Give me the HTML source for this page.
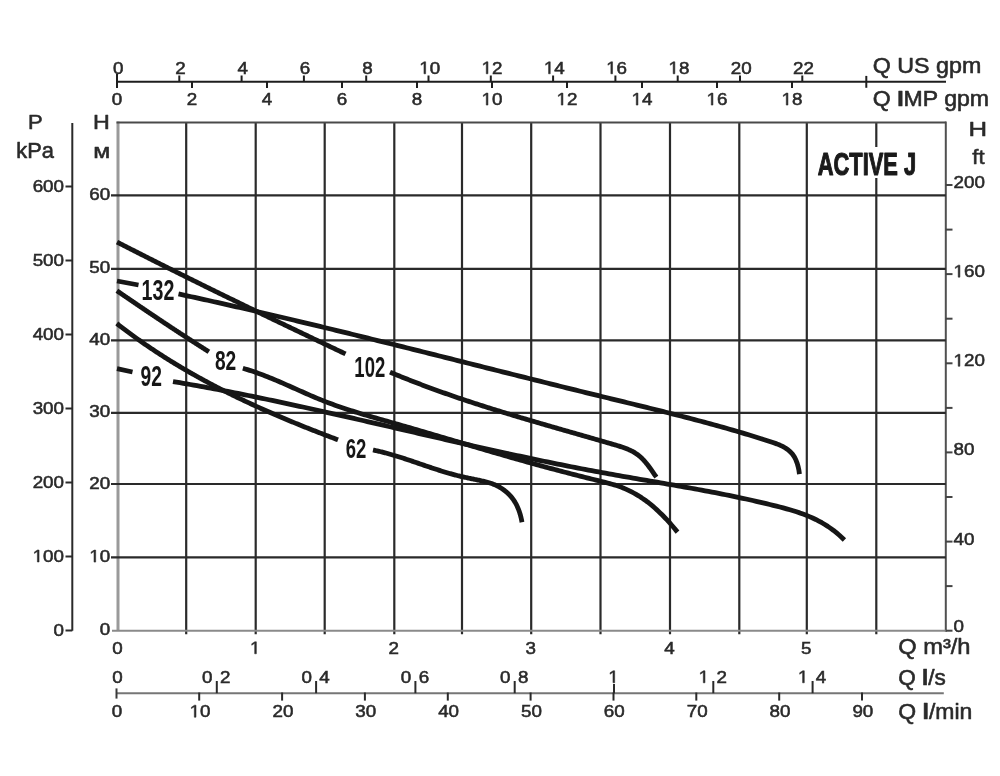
<!DOCTYPE html>
<html><head><meta charset="utf-8"><style>
html,body{margin:0;padding:0;background:#fff;}
svg{display:block;will-change:transform;}
text{font-family:"Liberation Sans",sans-serif;}
</style></head><body>
<svg width="1000" height="776" viewBox="0 0 1000 776">
<rect width="1000" height="776" fill="#fff"/>
<line x1="118.0" y1="121.4" x2="118.0" y2="630.7" stroke="#9a9a9a" stroke-width="3"/>
<line x1="186.2" y1="122.4" x2="186.2" y2="634.2" stroke="#2a2a2a" stroke-width="2.2"/>
<line x1="255.7" y1="122.4" x2="255.7" y2="634.2" stroke="#2a2a2a" stroke-width="2.2"/>
<line x1="324.7" y1="122.4" x2="324.7" y2="634.2" stroke="#2a2a2a" stroke-width="2.2"/>
<line x1="394.3" y1="122.4" x2="394.3" y2="634.2" stroke="#2a2a2a" stroke-width="2.2"/>
<line x1="462.0" y1="122.4" x2="462.0" y2="634.2" stroke="#2a2a2a" stroke-width="2.2"/>
<line x1="531.2" y1="122.4" x2="531.2" y2="634.2" stroke="#2a2a2a" stroke-width="2.2"/>
<line x1="600.5" y1="122.4" x2="600.5" y2="634.2" stroke="#2a2a2a" stroke-width="2.2"/>
<line x1="670.0" y1="122.4" x2="670.0" y2="634.2" stroke="#2a2a2a" stroke-width="2.2"/>
<line x1="739.3" y1="122.4" x2="739.3" y2="634.2" stroke="#2a2a2a" stroke-width="2.2"/>
<line x1="806.8" y1="122.4" x2="806.8" y2="634.2" stroke="#2a2a2a" stroke-width="2.2"/>
<line x1="876.3" y1="122.4" x2="876.3" y2="634.2" stroke="#2a2a2a" stroke-width="2.2"/>
<line x1="945.8" y1="121.4" x2="945.8" y2="631.7" stroke="#505050" stroke-width="2"/>
<line x1="116.5" y1="122.4" x2="945.8" y2="122.4" stroke="#4a4a4a" stroke-width="2"/>
<line x1="111.0" y1="195.4" x2="945.8" y2="195.4" stroke="#2a2a2a" stroke-width="2.2"/>
<line x1="111.0" y1="268.8" x2="945.8" y2="268.8" stroke="#2a2a2a" stroke-width="2.2"/>
<line x1="111.0" y1="340.4" x2="945.8" y2="340.4" stroke="#2a2a2a" stroke-width="2.2"/>
<line x1="111.0" y1="412.8" x2="945.8" y2="412.8" stroke="#2a2a2a" stroke-width="2.2"/>
<line x1="111.0" y1="484.0" x2="945.8" y2="484.0" stroke="#2a2a2a" stroke-width="2.2"/>
<line x1="111.0" y1="557.4" x2="945.8" y2="557.4" stroke="#2a2a2a" stroke-width="2.2"/>
<line x1="112.0" y1="630.7" x2="945.8" y2="630.7" stroke="#8a8a8a" stroke-width="2"/>
<text font-size="17.4" fill="#2a2a2a" stroke="#2a2a2a" stroke-width="0.55" transform="translate(89.30 200.09) scale(1.08 1)">60</text>
<text font-size="17.4" fill="#2a2a2a" stroke="#2a2a2a" stroke-width="0.55" transform="translate(89.30 273.49) scale(1.08 1)">50</text>
<text font-size="17.4" fill="#2a2a2a" stroke="#2a2a2a" stroke-width="0.55" transform="translate(89.30 345.09) scale(1.08 1)">40</text>
<text font-size="17.4" fill="#2a2a2a" stroke="#2a2a2a" stroke-width="0.55" transform="translate(89.30 417.49) scale(1.08 1)">30</text>
<text font-size="17.4" fill="#2a2a2a" stroke="#2a2a2a" stroke-width="0.55" transform="translate(89.30 488.69) scale(1.08 1)">20</text>
<text font-size="17.4" fill="#2a2a2a" stroke="#2a2a2a" stroke-width="0.55" transform="translate(89.30 562.09) scale(1.08 1)"> 0</text>
<path d="M515 0L515 1237L197 1010L197 1180L530 1409L696 1409L696 0Z" fill="#2a2a2a" stroke="#2a2a2a" stroke-width="0.55" vector-effect="non-scaling-stroke" transform="matrix(0.009176 0 0 -0.008496 89.30 562.09)"/>
<text font-size="17.4" fill="#2a2a2a" stroke="#2a2a2a" stroke-width="0.55" transform="translate(99.75 635.39) scale(1.08 1)">0</text>
<line x1="72.3" y1="123.0" x2="72.3" y2="630.7" stroke="#2a2a2a" stroke-width="2"/>
<line x1="65.5" y1="630.5" x2="72.3" y2="630.5" stroke="#2a2a2a" stroke-width="2"/>
<text font-size="17.4" fill="#2a2a2a" stroke="#2a2a2a" stroke-width="0.55" transform="translate(53.55 635.99) scale(1.08 1)">0</text>
<line x1="65.5" y1="556.5" x2="72.3" y2="556.5" stroke="#2a2a2a" stroke-width="2"/>
<text font-size="17.4" fill="#2a2a2a" stroke="#2a2a2a" stroke-width="0.55" transform="translate(32.65 561.99) scale(1.08 1)"> 00</text>
<path d="M515 0L515 1237L197 1010L197 1180L530 1409L696 1409L696 0Z" fill="#2a2a2a" stroke="#2a2a2a" stroke-width="0.55" vector-effect="non-scaling-stroke" transform="matrix(0.009176 0 0 -0.008496 32.65 561.99)"/>
<line x1="65.5" y1="482.5" x2="72.3" y2="482.5" stroke="#2a2a2a" stroke-width="2"/>
<text font-size="17.4" fill="#2a2a2a" stroke="#2a2a2a" stroke-width="0.55" transform="translate(32.65 487.99) scale(1.08 1)">200</text>
<line x1="65.5" y1="408.5" x2="72.3" y2="408.5" stroke="#2a2a2a" stroke-width="2"/>
<text font-size="17.4" fill="#2a2a2a" stroke="#2a2a2a" stroke-width="0.55" transform="translate(32.65 413.99) scale(1.08 1)">300</text>
<line x1="65.5" y1="334.5" x2="72.3" y2="334.5" stroke="#2a2a2a" stroke-width="2"/>
<text font-size="17.4" fill="#2a2a2a" stroke="#2a2a2a" stroke-width="0.55" transform="translate(32.65 339.99) scale(1.08 1)">400</text>
<line x1="65.5" y1="260.5" x2="72.3" y2="260.5" stroke="#2a2a2a" stroke-width="2"/>
<text font-size="17.4" fill="#2a2a2a" stroke="#2a2a2a" stroke-width="0.55" transform="translate(32.65 265.99) scale(1.08 1)">500</text>
<line x1="65.5" y1="186.5" x2="72.3" y2="186.5" stroke="#2a2a2a" stroke-width="2"/>
<text font-size="17.4" fill="#2a2a2a" stroke="#2a2a2a" stroke-width="0.55" transform="translate(32.65 191.99) scale(1.08 1)">600</text>
<text font-size="20.203" fill="#2a2a2a" stroke="#2a2a2a" stroke-width="0.6" vector-effect="non-scaling-stroke" stroke-linejoin="round" transform="matrix(1.08651 0 0 1 28.10 129.20)">P</text>
<text font-size="21.931" fill="#2a2a2a" stroke="#2a2a2a" stroke-width="0.6" vector-effect="non-scaling-stroke" stroke-linejoin="round" transform="matrix(0.99616 0 0 1 16.24 157.50)">kPa</text>
<text font-size="20.203" fill="#2a2a2a" stroke="#2a2a2a" stroke-width="0.6" vector-effect="non-scaling-stroke" stroke-linejoin="round" transform="matrix(1.15108 0 0 1 93.09 129.20)">H</text>
<text font-size="20.265" fill="#2a2a2a" stroke="#2a2a2a" stroke-width="0.6" vector-effect="non-scaling-stroke" stroke-linejoin="round" transform="matrix(1.22019 0 0 1 93.29 157.50)">м</text>
<line x1="945.8" y1="630.7" x2="952.5" y2="630.7" stroke="#444" stroke-width="2"/>
<text font-size="17.4" fill="#2a2a2a" stroke="#2a2a2a" stroke-width="0.55" transform="translate(953.50 631.69) scale(1.08 1)">0</text>
<line x1="945.8" y1="586.1" x2="952.5" y2="586.1" stroke="#444" stroke-width="2"/>
<line x1="945.8" y1="541.6" x2="952.5" y2="541.6" stroke="#444" stroke-width="2"/>
<text font-size="17.4" fill="#2a2a2a" stroke="#2a2a2a" stroke-width="0.55" transform="translate(953.50 544.55) scale(1.08 1)">40</text>
<line x1="945.8" y1="497.0" x2="952.5" y2="497.0" stroke="#444" stroke-width="2"/>
<line x1="945.8" y1="452.4" x2="952.5" y2="452.4" stroke="#444" stroke-width="2"/>
<text font-size="17.4" fill="#2a2a2a" stroke="#2a2a2a" stroke-width="0.55" transform="translate(953.50 455.41) scale(1.08 1)">80</text>
<line x1="945.8" y1="407.9" x2="952.5" y2="407.9" stroke="#444" stroke-width="2"/>
<line x1="945.8" y1="363.3" x2="952.5" y2="363.3" stroke="#444" stroke-width="2"/>
<text font-size="17.4" fill="#2a2a2a" stroke="#2a2a2a" stroke-width="0.55" transform="translate(953.50 366.27) scale(1.08 1)"> 20</text>
<path d="M515 0L515 1237L197 1010L197 1180L530 1409L696 1409L696 0Z" fill="#2a2a2a" stroke="#2a2a2a" stroke-width="0.55" vector-effect="non-scaling-stroke" transform="matrix(0.009176 0 0 -0.008496 953.50 366.27)"/>
<line x1="945.8" y1="318.7" x2="952.5" y2="318.7" stroke="#444" stroke-width="2"/>
<line x1="945.8" y1="274.1" x2="952.5" y2="274.1" stroke="#444" stroke-width="2"/>
<text font-size="17.4" fill="#2a2a2a" stroke="#2a2a2a" stroke-width="0.55" transform="translate(953.50 277.13) scale(1.08 1)"> 60</text>
<path d="M515 0L515 1237L197 1010L197 1180L530 1409L696 1409L696 0Z" fill="#2a2a2a" stroke="#2a2a2a" stroke-width="0.55" vector-effect="non-scaling-stroke" transform="matrix(0.009176 0 0 -0.008496 953.50 277.13)"/>
<line x1="945.8" y1="229.6" x2="952.5" y2="229.6" stroke="#444" stroke-width="2"/>
<line x1="945.8" y1="185.0" x2="952.5" y2="185.0" stroke="#444" stroke-width="2"/>
<text font-size="17.4" fill="#2a2a2a" stroke="#2a2a2a" stroke-width="0.55" transform="translate(953.50 187.99) scale(1.08 1)">200</text>
<text font-size="21.076" fill="#2a2a2a" stroke="#2a2a2a" stroke-width="0.6" vector-effect="non-scaling-stroke" stroke-linejoin="round" transform="matrix(1.22228 0 0 1 968.49 135.70)">H</text>
<text font-size="20.028" fill="#2a2a2a" stroke="#2a2a2a" stroke-width="0.6" vector-effect="non-scaling-stroke" stroke-linejoin="round" transform="matrix(1.10128 0 0 1 972.29 164.10)">ft</text>
<line x1="117.0" y1="81.7" x2="946.0" y2="81.7" stroke="#1e1e1e" stroke-width="2"/>
<line x1="117.0" y1="74.0" x2="117.0" y2="88.0" stroke="#1e1e1e" stroke-width="2"/>
<line x1="866.3" y1="75.9" x2="866.3" y2="87.8" stroke="#1e1e1e" stroke-width="2"/>
<text font-size="17.4" fill="#2a2a2a" stroke="#2a2a2a" stroke-width="0.55" transform="translate(112.97 73.79) scale(1.08 1)">0</text>
<line x1="179.3" y1="75.5" x2="179.3" y2="82.0" stroke="#1e1e1e" stroke-width="2"/>
<text font-size="17.4" fill="#2a2a2a" stroke="#2a2a2a" stroke-width="0.55" transform="translate(175.27 73.79) scale(1.08 1)">2</text>
<line x1="241.6" y1="75.5" x2="241.6" y2="82.0" stroke="#1e1e1e" stroke-width="2"/>
<text font-size="17.4" fill="#2a2a2a" stroke="#2a2a2a" stroke-width="0.55" transform="translate(237.57 73.79) scale(1.08 1)">4</text>
<line x1="303.9" y1="75.5" x2="303.9" y2="82.0" stroke="#1e1e1e" stroke-width="2"/>
<text font-size="17.4" fill="#2a2a2a" stroke="#2a2a2a" stroke-width="0.55" transform="translate(299.87 73.79) scale(1.08 1)">6</text>
<line x1="366.2" y1="75.5" x2="366.2" y2="82.0" stroke="#1e1e1e" stroke-width="2"/>
<text font-size="17.4" fill="#2a2a2a" stroke="#2a2a2a" stroke-width="0.55" transform="translate(362.17 73.79) scale(1.08 1)">8</text>
<line x1="428.5" y1="75.5" x2="428.5" y2="82.0" stroke="#1e1e1e" stroke-width="2"/>
<text font-size="17.4" fill="#2a2a2a" stroke="#2a2a2a" stroke-width="0.55" transform="translate(419.25 73.79) scale(1.08 1)"> 0</text>
<path d="M515 0L515 1237L197 1010L197 1180L530 1409L696 1409L696 0Z" fill="#2a2a2a" stroke="#2a2a2a" stroke-width="0.55" vector-effect="non-scaling-stroke" transform="matrix(0.009176 0 0 -0.008496 419.25 73.79)"/>
<line x1="490.8" y1="75.5" x2="490.8" y2="82.0" stroke="#1e1e1e" stroke-width="2"/>
<text font-size="17.4" fill="#2a2a2a" stroke="#2a2a2a" stroke-width="0.55" transform="translate(481.55 73.79) scale(1.08 1)"> 2</text>
<path d="M515 0L515 1237L197 1010L197 1180L530 1409L696 1409L696 0Z" fill="#2a2a2a" stroke="#2a2a2a" stroke-width="0.55" vector-effect="non-scaling-stroke" transform="matrix(0.009176 0 0 -0.008496 481.55 73.79)"/>
<line x1="553.1" y1="75.5" x2="553.1" y2="82.0" stroke="#1e1e1e" stroke-width="2"/>
<text font-size="17.4" fill="#2a2a2a" stroke="#2a2a2a" stroke-width="0.55" transform="translate(543.85 73.79) scale(1.08 1)"> 4</text>
<path d="M515 0L515 1237L197 1010L197 1180L530 1409L696 1409L696 0Z" fill="#2a2a2a" stroke="#2a2a2a" stroke-width="0.55" vector-effect="non-scaling-stroke" transform="matrix(0.009176 0 0 -0.008496 543.85 73.79)"/>
<line x1="615.4" y1="75.5" x2="615.4" y2="82.0" stroke="#1e1e1e" stroke-width="2"/>
<text font-size="17.4" fill="#2a2a2a" stroke="#2a2a2a" stroke-width="0.55" transform="translate(606.15 73.79) scale(1.08 1)"> 6</text>
<path d="M515 0L515 1237L197 1010L197 1180L530 1409L696 1409L696 0Z" fill="#2a2a2a" stroke="#2a2a2a" stroke-width="0.55" vector-effect="non-scaling-stroke" transform="matrix(0.009176 0 0 -0.008496 606.15 73.79)"/>
<line x1="677.7" y1="75.5" x2="677.7" y2="82.0" stroke="#1e1e1e" stroke-width="2"/>
<text font-size="17.4" fill="#2a2a2a" stroke="#2a2a2a" stroke-width="0.55" transform="translate(668.45 73.79) scale(1.08 1)"> 8</text>
<path d="M515 0L515 1237L197 1010L197 1180L530 1409L696 1409L696 0Z" fill="#2a2a2a" stroke="#2a2a2a" stroke-width="0.55" vector-effect="non-scaling-stroke" transform="matrix(0.009176 0 0 -0.008496 668.45 73.79)"/>
<line x1="740.0" y1="75.5" x2="740.0" y2="82.0" stroke="#1e1e1e" stroke-width="2"/>
<text font-size="17.4" fill="#2a2a2a" stroke="#2a2a2a" stroke-width="0.55" transform="translate(730.75 73.79) scale(1.08 1)">20</text>
<line x1="802.3" y1="75.5" x2="802.3" y2="82.0" stroke="#1e1e1e" stroke-width="2"/>
<text font-size="17.4" fill="#2a2a2a" stroke="#2a2a2a" stroke-width="0.55" transform="translate(793.05 73.79) scale(1.08 1)">22</text>
<text font-size="17.4" fill="#2a2a2a" stroke="#2a2a2a" stroke-width="0.55" transform="translate(111.77 105.09) scale(1.08 1)">0</text>
<line x1="192.0" y1="81.5" x2="192.0" y2="88.0" stroke="#1e1e1e" stroke-width="2"/>
<text font-size="17.4" fill="#2a2a2a" stroke="#2a2a2a" stroke-width="0.55" transform="translate(186.77 105.09) scale(1.08 1)">2</text>
<line x1="267.0" y1="81.5" x2="267.0" y2="88.0" stroke="#1e1e1e" stroke-width="2"/>
<text font-size="17.4" fill="#2a2a2a" stroke="#2a2a2a" stroke-width="0.55" transform="translate(261.77 105.09) scale(1.08 1)">4</text>
<line x1="342.0" y1="81.5" x2="342.0" y2="88.0" stroke="#1e1e1e" stroke-width="2"/>
<text font-size="17.4" fill="#2a2a2a" stroke="#2a2a2a" stroke-width="0.55" transform="translate(336.77 105.09) scale(1.08 1)">6</text>
<line x1="417.0" y1="81.5" x2="417.0" y2="88.0" stroke="#1e1e1e" stroke-width="2"/>
<text font-size="17.4" fill="#2a2a2a" stroke="#2a2a2a" stroke-width="0.55" transform="translate(411.77 105.09) scale(1.08 1)">8</text>
<line x1="492.0" y1="81.5" x2="492.0" y2="88.0" stroke="#1e1e1e" stroke-width="2"/>
<text font-size="17.4" fill="#2a2a2a" stroke="#2a2a2a" stroke-width="0.55" transform="translate(481.55 105.09) scale(1.08 1)"> 0</text>
<path d="M515 0L515 1237L197 1010L197 1180L530 1409L696 1409L696 0Z" fill="#2a2a2a" stroke="#2a2a2a" stroke-width="0.55" vector-effect="non-scaling-stroke" transform="matrix(0.009176 0 0 -0.008496 481.55 105.09)"/>
<line x1="567.0" y1="81.5" x2="567.0" y2="88.0" stroke="#1e1e1e" stroke-width="2"/>
<text font-size="17.4" fill="#2a2a2a" stroke="#2a2a2a" stroke-width="0.55" transform="translate(556.55 105.09) scale(1.08 1)"> 2</text>
<path d="M515 0L515 1237L197 1010L197 1180L530 1409L696 1409L696 0Z" fill="#2a2a2a" stroke="#2a2a2a" stroke-width="0.55" vector-effect="non-scaling-stroke" transform="matrix(0.009176 0 0 -0.008496 556.55 105.09)"/>
<line x1="642.0" y1="81.5" x2="642.0" y2="88.0" stroke="#1e1e1e" stroke-width="2"/>
<text font-size="17.4" fill="#2a2a2a" stroke="#2a2a2a" stroke-width="0.55" transform="translate(631.55 105.09) scale(1.08 1)"> 4</text>
<path d="M515 0L515 1237L197 1010L197 1180L530 1409L696 1409L696 0Z" fill="#2a2a2a" stroke="#2a2a2a" stroke-width="0.55" vector-effect="non-scaling-stroke" transform="matrix(0.009176 0 0 -0.008496 631.55 105.09)"/>
<line x1="717.0" y1="81.5" x2="717.0" y2="88.0" stroke="#1e1e1e" stroke-width="2"/>
<text font-size="17.4" fill="#2a2a2a" stroke="#2a2a2a" stroke-width="0.55" transform="translate(706.55 105.09) scale(1.08 1)"> 6</text>
<path d="M515 0L515 1237L197 1010L197 1180L530 1409L696 1409L696 0Z" fill="#2a2a2a" stroke="#2a2a2a" stroke-width="0.55" vector-effect="non-scaling-stroke" transform="matrix(0.009176 0 0 -0.008496 706.55 105.09)"/>
<line x1="792.0" y1="81.5" x2="792.0" y2="88.0" stroke="#1e1e1e" stroke-width="2"/>
<text font-size="17.4" fill="#2a2a2a" stroke="#2a2a2a" stroke-width="0.55" transform="translate(781.55 105.09) scale(1.08 1)"> 8</text>
<path d="M515 0L515 1237L197 1010L197 1180L530 1409L696 1409L696 0Z" fill="#2a2a2a" stroke="#2a2a2a" stroke-width="0.55" vector-effect="non-scaling-stroke" transform="matrix(0.009176 0 0 -0.008496 781.55 105.09)"/>
<text font-size="22.779" fill="#2a2a2a" stroke="#2a2a2a" stroke-width="0.6" vector-effect="non-scaling-stroke" stroke-linejoin="round" transform="matrix(1.02040 0 0 1 872.81 72.80)">Q US gpm</text>
<text font-size="21.777" fill="#2a2a2a" stroke="#2a2a2a" stroke-width="0.6" vector-effect="non-scaling-stroke" stroke-linejoin="round" transform="matrix(1.05972 0 0 1 872.82 106.40)">Q <tspan font-weight="bold">I</tspan>MP gpm</text>
<text font-size="17.4" fill="#2a2a2a" stroke="#2a2a2a" stroke-width="0.55" transform="translate(112.27 653.79) scale(1.08 1)">0</text>
<text font-size="17.4" fill="#2a2a2a" stroke="#2a2a2a" stroke-width="0.55" transform="translate(249.97 653.79) scale(1.08 1)"> </text>
<path d="M515 0L515 1237L197 1010L197 1180L530 1409L696 1409L696 0Z" fill="#2a2a2a" stroke="#2a2a2a" stroke-width="0.55" vector-effect="non-scaling-stroke" transform="matrix(0.009176 0 0 -0.008496 249.97 653.79)"/>
<text font-size="17.4" fill="#2a2a2a" stroke="#2a2a2a" stroke-width="0.55" transform="translate(388.57 653.79) scale(1.08 1)">2</text>
<text font-size="17.4" fill="#2a2a2a" stroke="#2a2a2a" stroke-width="0.55" transform="translate(525.47 653.79) scale(1.08 1)">3</text>
<text font-size="17.4" fill="#2a2a2a" stroke="#2a2a2a" stroke-width="0.55" transform="translate(664.27 653.79) scale(1.08 1)">4</text>
<text font-size="17.4" fill="#2a2a2a" stroke="#2a2a2a" stroke-width="0.55" transform="translate(801.07 653.79) scale(1.08 1)">5</text>
<text font-size="21.777" fill="#2a2a2a" stroke="#2a2a2a" stroke-width="0.6" vector-effect="non-scaling-stroke" stroke-linejoin="round" transform="matrix(1.08682 0 0 1 898.19 654.20)">Q m³/h</text>
<line x1="116.5" y1="693.2" x2="943.8" y2="693.2" stroke="#767676" stroke-width="2"/>
<line x1="116.5" y1="688.4" x2="116.5" y2="698.6" stroke="#3a3a3a" stroke-width="2"/>
<text font-size="17.4" fill="#2a2a2a" stroke="#2a2a2a" stroke-width="0.55" transform="translate(112.27 682.79) scale(1.08 1)">0</text>
<line x1="216.8" y1="681.0" x2="216.8" y2="693.2" stroke="#2a2a2a" stroke-width="2"/>
<text font-size="17.4" fill="#2a2a2a" stroke="#2a2a2a" stroke-width="0.55" transform="translate(202.09 682.79) scale(1.08 1)">0  2</text>
<line x1="316.1" y1="681.0" x2="316.1" y2="693.2" stroke="#2a2a2a" stroke-width="2"/>
<text font-size="17.4" fill="#2a2a2a" stroke="#2a2a2a" stroke-width="0.55" transform="translate(301.39 682.79) scale(1.08 1)">0  4</text>
<line x1="415.4" y1="681.0" x2="415.4" y2="693.2" stroke="#2a2a2a" stroke-width="2"/>
<text font-size="17.4" fill="#2a2a2a" stroke="#2a2a2a" stroke-width="0.55" transform="translate(400.69 682.79) scale(1.08 1)">0  6</text>
<line x1="514.7" y1="681.0" x2="514.7" y2="693.2" stroke="#2a2a2a" stroke-width="2"/>
<text font-size="17.4" fill="#2a2a2a" stroke="#2a2a2a" stroke-width="0.55" transform="translate(499.99 682.79) scale(1.08 1)">0  8</text>
<line x1="614.0" y1="684.0" x2="614.0" y2="693.2" stroke="#2a2a2a" stroke-width="2"/>
<text font-size="17.4" fill="#2a2a2a" stroke="#2a2a2a" stroke-width="0.55" transform="translate(608.27 682.79) scale(1.08 1)"> </text>
<path d="M515 0L515 1237L197 1010L197 1180L530 1409L696 1409L696 0Z" fill="#2a2a2a" stroke="#2a2a2a" stroke-width="0.55" vector-effect="non-scaling-stroke" transform="matrix(0.009176 0 0 -0.008496 608.27 682.79)"/>
<line x1="713.3" y1="681.0" x2="713.3" y2="693.2" stroke="#2a2a2a" stroke-width="2"/>
<text font-size="17.4" fill="#2a2a2a" stroke="#2a2a2a" stroke-width="0.55" transform="translate(698.59 682.79) scale(1.08 1)">   2</text>
<path d="M515 0L515 1237L197 1010L197 1180L530 1409L696 1409L696 0Z" fill="#2a2a2a" stroke="#2a2a2a" stroke-width="0.55" vector-effect="non-scaling-stroke" transform="matrix(0.009176 0 0 -0.008496 698.59 682.79)"/>
<line x1="812.6" y1="681.0" x2="812.6" y2="693.2" stroke="#2a2a2a" stroke-width="2"/>
<text font-size="17.4" fill="#2a2a2a" stroke="#2a2a2a" stroke-width="0.55" transform="translate(797.89 682.79) scale(1.08 1)">   4</text>
<path d="M515 0L515 1237L197 1010L197 1180L530 1409L696 1409L696 0Z" fill="#2a2a2a" stroke="#2a2a2a" stroke-width="0.55" vector-effect="non-scaling-stroke" transform="matrix(0.009176 0 0 -0.008496 797.89 682.79)"/>
<text font-size="17.4" fill="#2a2a2a" stroke="#2a2a2a" stroke-width="0.55" transform="translate(111.67 717.19) scale(1.08 1)">0</text>
<line x1="199.2" y1="692.5" x2="199.2" y2="700.6" stroke="#2a2a2a" stroke-width="2"/>
<text font-size="17.4" fill="#2a2a2a" stroke="#2a2a2a" stroke-width="0.55" transform="translate(189.60 717.19) scale(1.08 1)"> 0</text>
<path d="M515 0L515 1237L197 1010L197 1180L530 1409L696 1409L696 0Z" fill="#2a2a2a" stroke="#2a2a2a" stroke-width="0.55" vector-effect="non-scaling-stroke" transform="matrix(0.009176 0 0 -0.008496 189.60 717.19)"/>
<line x1="282.1" y1="692.5" x2="282.1" y2="700.6" stroke="#2a2a2a" stroke-width="2"/>
<text font-size="17.4" fill="#2a2a2a" stroke="#2a2a2a" stroke-width="0.55" transform="translate(272.45 717.19) scale(1.08 1)">20</text>
<line x1="364.9" y1="692.5" x2="364.9" y2="700.6" stroke="#2a2a2a" stroke-width="2"/>
<text font-size="17.4" fill="#2a2a2a" stroke="#2a2a2a" stroke-width="0.55" transform="translate(355.30 717.19) scale(1.08 1)">30</text>
<line x1="447.8" y1="692.5" x2="447.8" y2="700.6" stroke="#2a2a2a" stroke-width="2"/>
<text font-size="17.4" fill="#2a2a2a" stroke="#2a2a2a" stroke-width="0.55" transform="translate(438.15 717.19) scale(1.08 1)">40</text>
<line x1="530.6" y1="692.5" x2="530.6" y2="700.6" stroke="#2a2a2a" stroke-width="2"/>
<text font-size="17.4" fill="#2a2a2a" stroke="#2a2a2a" stroke-width="0.55" transform="translate(521.00 717.19) scale(1.08 1)">50</text>
<line x1="613.5" y1="692.5" x2="613.5" y2="700.6" stroke="#2a2a2a" stroke-width="2"/>
<text font-size="17.4" fill="#2a2a2a" stroke="#2a2a2a" stroke-width="0.55" transform="translate(603.85 717.19) scale(1.08 1)">60</text>
<line x1="696.3" y1="692.5" x2="696.3" y2="700.6" stroke="#2a2a2a" stroke-width="2"/>
<text font-size="17.4" fill="#2a2a2a" stroke="#2a2a2a" stroke-width="0.55" transform="translate(686.70 717.19) scale(1.08 1)">70</text>
<line x1="779.2" y1="692.5" x2="779.2" y2="700.6" stroke="#2a2a2a" stroke-width="2"/>
<text font-size="17.4" fill="#2a2a2a" stroke="#2a2a2a" stroke-width="0.55" transform="translate(769.55 717.19) scale(1.08 1)">80</text>
<line x1="862.0" y1="692.5" x2="862.0" y2="700.6" stroke="#2a2a2a" stroke-width="2"/>
<text font-size="17.4" fill="#2a2a2a" stroke="#2a2a2a" stroke-width="0.55" transform="translate(852.40 717.19) scale(1.08 1)">90</text>
<text font-size="21.777" fill="#2a2a2a" stroke="#2a2a2a" stroke-width="0.6" vector-effect="non-scaling-stroke" stroke-linejoin="round" transform="matrix(1.03573 0 0 1 898.24 684.50)">Q <tspan font-weight="bold">l</tspan>/s</text>
<text font-size="22.759" fill="#2a2a2a" stroke="#2a2a2a" stroke-width="0.6" vector-effect="non-scaling-stroke" stroke-linejoin="round" transform="matrix(1.01078 0 0 1 898.22 718.60)">Q <tspan font-weight="bold">l</tspan>/min</text>
<rect x="814" y="147" width="106" height="31" fill="#fff"/>
<text font-size="31.662" font-weight="bold" fill="#1a1a1a" stroke="#1a1a1a" stroke-width="1.0" vector-effect="non-scaling-stroke" stroke-linejoin="round" transform="matrix(0.69127 0 0 1 817.67 175.30)">ACTIVE J</text>
<path d="M116.98 242.03 L118.12 242.61 L119.26 243.20 L120.40 243.78 L121.54 244.37 L122.68 244.95 L123.81 245.53 L124.95 246.11 L126.09 246.70 L127.23 247.28 L128.37 247.86 L129.51 248.44 L130.65 249.02 L131.79 249.60 L132.93 250.18 L134.07 250.76 L135.21 251.34 L136.35 251.92 L137.49 252.50 L138.63 253.08 L139.77 253.66 L140.91 254.24 L142.05 254.82 L143.19 255.40 L144.33 255.97 L145.47 256.55 L146.61 257.13 L147.75 257.70 L148.90 258.28 L150.04 258.86 L151.18 259.43 L152.32 260.01 L153.46 260.58 L154.61 261.16 L155.75 261.73 L156.89 262.31 L158.03 262.88 L159.18 263.46 L160.32 264.03 L161.46 264.60 L162.60 265.18 L163.75 265.75 L164.89 266.32 L166.03 266.90 L167.18 267.47 L168.32 268.04 L169.47 268.61 L170.61 269.18 L171.75 269.76 L172.90 270.33 L174.04 270.90 L175.19 271.47 L176.33 272.04 L177.48 272.61 L178.62 273.18 L179.76 273.75 L180.91 274.32 L182.05 274.89 L183.20 275.46 L184.35 276.02 L185.49 276.59 L186.64 277.16 L187.78 277.73 L188.93 278.30 L190.07 278.86 L191.22 279.43 L192.37 280.00 L193.51 280.56 L194.66 281.13 L195.80 281.70 L196.95 282.26 L198.10 282.83 L199.24 283.40 L200.39 283.96 L201.54 284.53 L202.69 285.09 L203.83 285.66 L204.98 286.22 L206.13 286.79 L207.27 287.35 L208.42 287.91 L209.57 288.48 L210.72 289.04 L211.87 289.61 L213.01 290.17 L214.16 290.73 L215.31 291.29 L216.46 291.86 L217.61 292.42 L218.75 292.98 L219.90 293.54 L221.05 294.11 L222.20 294.67 L223.35 295.23 L224.50 295.79 L225.65 296.35 L226.80 296.91 L227.95 297.47 L229.09 298.03 L230.24 298.59 L231.39 299.15 L232.54 299.71 L233.69 300.27 L234.84 300.83 L235.99 301.39 L237.14 301.95 L238.29 302.51 L239.44 303.07 L240.59 303.63 L241.74 304.19 L242.89 304.75 L244.04 305.31 L245.19 305.86 L246.34 306.42 L247.49 306.98 L248.65 307.54 L249.80 308.09 L250.95 308.65 L252.10 309.21 L253.25 309.77 L254.40 310.32 L255.55 310.88 L256.70 311.44 L257.85 311.99 L259.00 312.55 L260.16 313.11 L261.31 313.66 L262.46 314.22 L263.61 314.77 L264.76 315.33 L265.91 315.88 L267.07 316.44 L268.22 316.99 L269.37 317.55 L270.52 318.10 L271.68 318.66 L272.83 319.21 L273.98 319.77 L275.13 320.32 L276.28 320.88 L277.44 321.43 L278.59 321.98 L279.74 322.54 L280.90 323.09 L282.05 323.64 L283.20 324.20 L284.35 324.75 L285.51 325.30 L286.66 325.86 L287.81 326.41 L288.97 326.96 L290.12 327.52 L291.27 328.07 L292.43 328.62 L293.58 329.17 L294.73 329.73 L295.89 330.28 L297.04 330.83 L298.19 331.38 L299.35 331.93 L300.50 332.49 L301.65 333.04 L302.81 333.59 L303.96 334.14 L305.12 334.69 L306.27 335.24 L307.42 335.79 L308.58 336.35 L309.73 336.90 L310.89 337.45 L312.04 338.00 L313.19 338.55 L314.35 339.10 L315.50 339.65 L316.66 340.20 L317.81 340.75 L318.97 341.30 L320.12 341.85 L321.28 342.40 L322.43 342.95 L323.59 343.50 L324.74 344.05 L325.89 344.60 L327.05 345.15 L328.20 345.70 L329.36 346.25 L330.51 346.80 L331.67 347.35 L332.82 347.90 L333.98 348.45 L335.13 349.00 L336.29 349.55 L337.44 350.09 L338.60 350.64 L339.75 351.19 L340.91 351.74 L342.07 352.29 L343.22 352.84 L344.38 353.39 L345.53 353.94" fill="none" stroke="#161616" stroke-width="4.8" stroke-linecap="butt" stroke-linejoin="round"/>
<path d="M390.02 372.12 L391.37 372.69 L392.72 373.26 L394.07 373.82 L395.43 374.38 L396.78 374.94 L398.14 375.50 L399.49 376.05 L400.85 376.61 L402.20 377.16 L403.56 377.70 L404.92 378.25 L406.28 378.79 L407.64 379.33 L409.00 379.87 L410.36 380.41 L411.72 380.94 L413.08 381.47 L414.44 382.00 L415.81 382.53 L417.17 383.05 L418.54 383.58 L419.90 384.10 L421.27 384.62 L422.64 385.13 L424.00 385.65 L425.37 386.16 L426.74 386.67 L428.11 387.18 L429.48 387.69 L430.85 388.19 L432.22 388.69 L433.59 389.20 L434.96 389.69 L436.34 390.19 L437.71 390.69 L439.08 391.18 L440.46 391.67 L441.83 392.16 L443.21 392.65 L444.59 393.13 L445.96 393.62 L447.34 394.10 L448.72 394.58 L450.10 395.06 L451.47 395.54 L452.85 396.01 L454.23 396.49 L455.61 396.96 L457.00 397.43 L458.38 397.90 L459.76 398.37 L461.14 398.84 L462.52 399.30 L463.91 399.76 L465.29 400.23 L466.68 400.69 L468.06 401.14 L469.45 401.60 L470.83 402.06 L472.22 402.51 L473.60 402.96 L474.99 403.42 L476.38 403.87 L477.77 404.32 L479.15 404.76 L480.54 405.21 L481.93 405.65 L483.32 406.10 L484.71 406.54 L486.10 406.98 L487.49 407.42 L488.88 407.86 L490.28 408.30 L491.67 408.74 L493.06 409.17 L494.45 409.61 L495.84 410.04 L497.24 410.47 L498.63 410.90 L500.03 411.33 L501.42 411.76 L502.81 412.19 L504.21 412.62 L505.60 413.05 L507.00 413.47 L508.40 413.90 L509.79 414.32 L511.19 414.74 L512.59 415.16 L513.98 415.58 L515.38 416.00 L516.78 416.42 L518.17 416.84 L519.57 417.26 L520.97 417.68 L522.37 418.09 L523.77 418.51 L525.17 418.92 L526.57 419.34 L527.97 419.75 L529.37 420.17 L530.77 420.58 L532.17 420.99 L533.57 421.40 L534.97 421.81 L536.37 422.22 L537.77 422.63 L539.17 423.04 L540.57 423.45 L541.97 423.86 L543.38 424.26 L544.78 424.67 L546.18 425.08 L547.58 425.49 L548.99 425.89 L550.39 426.30 L551.79 426.70 L553.19 427.11 L554.60 427.51 L556.00 427.92 L557.40 428.32 L558.81 428.72 L560.21 429.13 L561.61 429.53 L563.02 429.94 L564.42 430.34 L565.82 430.74 L567.23 431.14 L568.63 431.55 L570.04 431.95 L571.44 432.35 L572.85 432.75 L574.25 433.16 L575.65 433.56 L577.06 433.96 L578.46 434.36 L579.87 434.77 L581.27 435.17 L582.68 435.57 L584.08 435.98 L585.49 436.38 L586.89 436.78 L588.29 437.18 L589.70 437.59 L591.10 437.99 L592.51 438.39 L593.91 438.80 L595.32 439.20 L596.72 439.61 L598.13 440.01 L599.53 440.42 L600.94 440.82 L602.34 441.23 L603.74 441.63 L605.15 442.04 L606.55 442.45 L607.96 442.85 L609.36 443.26 L610.76 443.67 L612.17 444.08 L613.57 444.49 L614.98 444.90 L616.38 445.31 L617.78 445.73 L619.17 446.15 L620.56 446.59 L621.94 447.04 L623.32 447.51 L624.68 448.00 L626.03 448.50 L627.37 449.04 L628.69 449.60 L630.00 450.19 L631.28 450.81 L632.55 451.47 L633.80 452.16 L635.03 452.90 L636.23 453.68 L637.41 454.51 L638.56 455.39 L639.68 456.31 L640.77 457.28 L641.84 458.30 L642.89 459.35 L643.91 460.43 L644.91 461.55 L645.88 462.70 L646.84 463.87 L647.77 465.06 L648.69 466.27 L649.59 467.49 L650.47 468.72 L651.34 469.95 L652.19 471.17 L653.04 472.39 L653.87 473.59 L654.70 474.78 L655.52 475.95 L656.33 477.09" fill="none" stroke="#161616" stroke-width="4.8" stroke-linecap="butt" stroke-linejoin="round"/>
<path d="M117.0 281.0 L138.5 285.0" fill="none" stroke="#161616" stroke-width="4.8" stroke-linecap="butt" stroke-linejoin="round"/>
<path d="M178.50 293.95 L181.72 294.64 L184.95 295.34 L188.18 296.04 L191.40 296.74 L194.63 297.44 L197.85 298.15 L201.07 298.86 L204.29 299.57 L207.52 300.28 L210.74 301.00 L213.96 301.72 L217.18 302.44 L220.40 303.16 L223.62 303.88 L226.84 304.61 L230.05 305.33 L233.27 306.06 L236.49 306.80 L239.71 307.53 L242.92 308.27 L246.14 309.00 L249.35 309.74 L252.57 310.49 L255.78 311.23 L258.99 311.97 L262.21 312.72 L265.42 313.47 L268.63 314.22 L271.85 314.97 L275.06 315.72 L278.27 316.48 L281.48 317.24 L284.69 318.00 L287.90 318.76 L291.11 319.52 L294.32 320.28 L297.53 321.04 L300.73 321.81 L303.94 322.58 L307.15 323.35 L310.36 324.12 L313.56 324.89 L316.77 325.66 L319.98 326.43 L323.18 327.21 L326.39 327.99 L329.59 328.76 L332.80 329.54 L336.00 330.32 L339.21 331.10 L342.41 331.89 L345.62 332.67 L348.82 333.45 L352.02 334.24 L355.23 335.03 L358.43 335.81 L361.63 336.60 L364.84 337.39 L368.04 338.18 L371.24 338.97 L374.44 339.77 L377.64 340.56 L380.85 341.35 L384.05 342.15 L387.25 342.94 L390.45 343.74 L393.65 344.53 L396.85 345.33 L400.05 346.13 L403.25 346.93 L406.45 347.72 L409.65 348.52 L412.85 349.32 L416.05 350.12 L419.25 350.92 L422.45 351.73 L425.65 352.53 L428.85 353.33 L432.05 354.13 L435.25 354.93 L438.45 355.74 L441.65 356.54 L444.85 357.34 L448.05 358.15 L451.25 358.95 L454.45 359.76 L457.65 360.56 L460.85 361.37 L464.05 362.17 L467.25 362.97 L470.45 363.78 L473.65 364.58 L476.84 365.39 L480.04 366.19 L483.24 367.00 L486.44 367.80 L489.64 368.61 L492.84 369.41 L496.04 370.22 L499.24 371.02 L502.44 371.82 L505.64 372.63 L508.84 373.43 L512.04 374.23 L515.24 375.03 L518.44 375.84 L521.64 376.64 L524.85 377.44 L528.05 378.24 L531.25 379.04 L534.45 379.84 L537.65 380.64 L540.85 381.44 L544.05 382.24 L547.26 383.04 L550.46 383.83 L553.66 384.63 L556.86 385.42 L560.07 386.22 L563.27 387.01 L566.47 387.81 L569.68 388.60 L572.88 389.39 L576.08 390.18 L579.29 390.97 L582.49 391.76 L585.70 392.55 L588.90 393.34 L592.11 394.13 L595.31 394.91 L598.52 395.70 L601.73 396.48 L604.93 397.26 L608.14 398.04 L611.35 398.83 L614.55 399.61 L617.76 400.39 L620.97 401.17 L624.18 401.95 L627.38 402.73 L630.59 403.51 L633.80 404.29 L637.00 405.08 L640.21 405.86 L643.42 406.65 L646.62 407.44 L649.82 408.23 L653.03 409.02 L656.23 409.81 L659.43 410.61 L662.64 411.41 L665.84 412.21 L669.04 413.02 L672.23 413.83 L675.43 414.64 L678.63 415.46 L681.82 416.28 L685.02 417.10 L688.21 417.93 L691.40 418.77 L694.59 419.61 L697.78 420.45 L700.97 421.30 L704.15 422.15 L707.34 423.01 L710.52 423.88 L713.70 424.75 L716.88 425.63 L720.05 426.52 L723.23 427.41 L726.40 428.31 L729.57 429.21 L732.73 430.12 L735.90 431.04 L739.06 431.97 L742.22 432.91 L745.38 433.85 L748.54 434.81 L751.69 435.77 L754.84 436.74 L757.99 437.72 L761.13 438.71 L764.28 439.70 L767.41 440.71 L770.55 441.73 L773.67 442.77 L776.75 443.88 L779.75 445.09 L782.64 446.45 L785.39 448.00 L787.97 449.78 L790.35 451.84 L792.49 454.20 L794.36 456.93 L795.94 460.03 L797.22 463.41 L798.23 466.98 L798.97 470.60 L799.45 474.18" fill="none" stroke="#161616" stroke-width="4.8" stroke-linecap="butt" stroke-linejoin="round"/>
<path d="M116.86 290.71 L117.32 291.02 L117.77 291.34 L118.23 291.65 L118.69 291.97 L119.14 292.28 L119.60 292.59 L120.06 292.91 L120.52 293.22 L120.97 293.53 L121.43 293.85 L121.89 294.16 L122.35 294.47 L122.80 294.79 L123.26 295.10 L123.72 295.42 L124.18 295.73 L124.63 296.04 L125.09 296.36 L125.55 296.67 L126.01 296.98 L126.47 297.30 L126.92 297.61 L127.38 297.92 L127.84 298.23 L128.30 298.55 L128.76 298.86 L129.22 299.17 L129.67 299.49 L130.13 299.80 L130.59 300.11 L131.05 300.42 L131.51 300.74 L131.97 301.05 L132.43 301.36 L132.88 301.67 L133.34 301.99 L133.80 302.30 L134.26 302.61 L134.72 302.92 L135.18 303.24 L135.64 303.55 L136.10 303.86 L136.56 304.17 L137.02 304.48 L137.47 304.80 L137.93 305.11 L138.39 305.42 L138.85 305.73 L139.31 306.04 L139.77 306.36 L140.23 306.67 L140.69 306.98 L141.15 307.29 L141.61 307.60 L142.07 307.91 L142.53 308.22 L142.99 308.54 L143.45 308.85 L143.91 309.16 L144.37 309.47 L144.83 309.78 L145.29 310.09 L145.75 310.40 L146.21 310.71 L146.67 311.02 L147.13 311.33 L147.59 311.64 L148.05 311.95 L148.51 312.26 L148.97 312.58 L149.44 312.89 L149.90 313.20 L150.36 313.51 L150.82 313.82 L151.28 314.13 L151.74 314.44 L152.20 314.75 L152.66 315.06 L153.12 315.36 L153.58 315.67 L154.05 315.98 L154.51 316.29 L154.97 316.60 L155.43 316.91 L155.89 317.22 L156.35 317.53 L156.82 317.84 L157.28 318.15 L157.74 318.46 L158.20 318.77 L158.66 319.07 L159.12 319.38 L159.59 319.69 L160.05 320.00 L160.51 320.31 L160.97 320.62 L161.44 320.92 L161.90 321.23 L162.36 321.54 L162.82 321.85 L163.28 322.16 L163.75 322.46 L164.21 322.77 L164.67 323.08 L165.14 323.39 L165.60 323.69 L166.06 324.00 L166.52 324.31 L166.99 324.62 L167.45 324.92 L167.91 325.23 L168.38 325.54 L168.84 325.84 L169.30 326.15 L169.77 326.46 L170.23 326.76 L170.69 327.07 L171.16 327.38 L171.62 327.68 L172.08 327.99 L172.55 328.29 L173.01 328.60 L173.48 328.91 L173.94 329.21 L174.40 329.52 L174.87 329.82 L175.33 330.13 L175.80 330.43 L176.26 330.74 L176.73 331.04 L177.19 331.35 L177.65 331.65 L178.12 331.96 L178.58 332.26 L179.05 332.57 L179.51 332.87 L179.98 333.17 L180.44 333.48 L180.91 333.78 L181.37 334.09 L181.84 334.39 L182.30 334.69 L182.77 335.00 L183.23 335.30 L183.70 335.60 L184.16 335.91 L184.63 336.21 L185.10 336.51 L185.56 336.82 L186.03 337.12 L186.49 337.42 L186.96 337.72 L187.42 338.03 L187.89 338.33 L188.36 338.63 L188.82 338.93 L189.29 339.23 L189.76 339.54 L190.22 339.84 L190.69 340.14 L191.15 340.44 L191.62 340.74 L192.09 341.04 L192.55 341.34 L193.02 341.65 L193.49 341.95 L193.95 342.25 L194.42 342.55 L194.89 342.85 L195.36 343.15 L195.82 343.45 L196.29 343.75 L196.76 344.05 L197.22 344.35 L197.69 344.65 L198.16 344.95 L198.63 345.25 L199.10 345.55 L199.56 345.85 L200.03 346.14 L200.50 346.44 L200.97 346.74 L201.43 347.04 L201.90 347.34 L202.37 347.64 L202.84 347.94 L203.31 348.23 L203.78 348.53 L204.24 348.83 L204.71 349.13 L205.18 349.42 L205.65 349.72 L206.12 350.02 L206.59 350.32 L207.06 350.61 L207.53 350.91 L208.00 351.21 L208.46 351.50 L208.93 351.80" fill="none" stroke="#161616" stroke-width="4.8" stroke-linecap="butt" stroke-linejoin="round"/>
<path d="M242.88 368.29 L245.16 368.96 L247.43 369.64 L249.69 370.35 L251.95 371.09 L254.19 371.84 L256.42 372.62 L258.65 373.42 L260.87 374.23 L263.08 375.07 L265.29 375.92 L267.48 376.78 L269.68 377.66 L271.86 378.55 L274.05 379.46 L276.22 380.37 L278.40 381.30 L280.57 382.23 L282.73 383.17 L284.90 384.12 L287.06 385.08 L289.22 386.03 L291.37 386.99 L293.53 387.96 L295.69 388.92 L297.84 389.88 L300.00 390.84 L302.16 391.80 L304.32 392.76 L306.47 393.71 L308.64 394.66 L310.80 395.60 L312.97 396.53 L315.14 397.45 L317.31 398.36 L319.49 399.26 L321.68 400.15 L323.86 401.02 L326.06 401.88 L328.26 402.72 L330.46 403.55 L332.67 404.37 L334.89 405.17 L337.11 405.96 L339.34 406.74 L341.57 407.50 L343.80 408.25 L346.04 409.00 L348.28 409.73 L350.53 410.45 L352.78 411.16 L355.03 411.87 L357.29 412.57 L359.55 413.26 L361.81 413.94 L364.07 414.62 L366.34 415.29 L368.60 415.95 L370.87 416.61 L373.14 417.27 L375.42 417.92 L377.69 418.57 L379.96 419.22 L382.24 419.87 L384.52 420.52 L386.79 421.16 L389.07 421.80 L391.34 422.45 L393.62 423.10 L395.89 423.74 L398.17 424.39 L400.44 425.04 L402.71 425.70 L404.98 426.35 L407.25 427.01 L409.53 427.66 L411.80 428.32 L414.07 428.98 L416.33 429.64 L418.60 430.30 L420.87 430.97 L423.14 431.63 L425.41 432.30 L427.67 432.96 L429.94 433.63 L432.21 434.29 L434.47 434.96 L436.74 435.63 L439.01 436.30 L441.27 436.97 L443.54 437.64 L445.80 438.31 L448.07 438.98 L450.33 439.65 L452.60 440.32 L454.86 440.99 L457.13 441.66 L459.39 442.33 L461.66 443.01 L463.92 443.68 L466.19 444.35 L468.45 445.02 L470.72 445.68 L472.98 446.35 L475.25 447.02 L477.51 447.69 L479.78 448.36 L482.04 449.02 L484.31 449.69 L486.58 450.35 L488.84 451.01 L491.11 451.68 L493.38 452.34 L495.65 453.00 L497.91 453.66 L500.18 454.31 L502.45 454.97 L504.72 455.62 L506.99 456.28 L509.26 456.93 L511.53 457.58 L513.81 458.23 L516.08 458.87 L518.35 459.52 L520.63 460.16 L522.90 460.80 L525.18 461.44 L527.45 462.07 L529.73 462.71 L532.01 463.34 L534.28 463.97 L536.56 464.60 L538.84 465.22 L541.12 465.84 L543.41 466.47 L545.69 467.08 L547.97 467.70 L550.25 468.31 L552.54 468.92 L554.82 469.53 L557.11 470.14 L559.39 470.74 L561.68 471.35 L563.97 471.95 L566.26 472.54 L568.54 473.14 L570.83 473.73 L573.12 474.32 L575.41 474.91 L577.70 475.50 L580.00 476.08 L582.29 476.66 L584.58 477.24 L586.87 477.82 L589.16 478.40 L591.46 478.97 L593.75 479.54 L596.05 480.11 L598.34 480.67 L600.63 481.24 L602.93 481.80 L605.22 482.37 L607.51 482.96 L609.79 483.56 L612.05 484.19 L614.31 484.85 L616.54 485.56 L618.76 486.31 L620.96 487.12 L623.14 487.97 L625.30 488.88 L627.43 489.84 L629.55 490.84 L631.64 491.89 L633.71 493.00 L635.75 494.14 L637.78 495.34 L639.77 496.58 L641.75 497.86 L643.70 499.19 L645.62 500.57 L647.53 501.98 L649.40 503.44 L651.25 504.93 L653.08 506.46 L654.88 508.03 L656.65 509.62 L658.40 511.24 L660.13 512.89 L661.83 514.57 L663.51 516.26 L665.16 517.98 L666.79 519.71 L668.40 521.46 L669.98 523.22 L671.54 524.99 L673.07 526.77 L674.58 528.56 L676.06 530.35 L677.52 532.14" fill="none" stroke="#161616" stroke-width="4.8" stroke-linecap="butt" stroke-linejoin="round"/>
<path d="M117.0 368.7 L132.5 372.0" fill="none" stroke="#161616" stroke-width="4.8" stroke-linecap="butt" stroke-linejoin="round"/>
<path d="M172.99 381.54 L176.43 382.12 L179.86 382.70 L183.30 383.29 L186.73 383.89 L190.16 384.49 L193.59 385.09 L197.02 385.71 L200.45 386.33 L203.87 386.95 L207.30 387.58 L210.72 388.21 L214.15 388.85 L217.57 389.50 L220.99 390.15 L224.41 390.80 L227.83 391.46 L231.25 392.13 L234.66 392.80 L238.08 393.47 L241.50 394.15 L244.91 394.83 L248.32 395.52 L251.73 396.21 L255.15 396.91 L258.56 397.61 L261.97 398.31 L265.37 399.02 L268.78 399.73 L272.19 400.44 L275.59 401.16 L279.00 401.88 L282.41 402.61 L285.81 403.34 L289.21 404.07 L292.62 404.80 L296.02 405.54 L299.42 406.28 L302.82 407.02 L306.22 407.77 L309.62 408.52 L313.02 409.27 L316.42 410.02 L319.81 410.78 L323.21 411.53 L326.61 412.29 L330.01 413.06 L333.40 413.82 L336.80 414.59 L340.19 415.36 L343.59 416.13 L346.98 416.90 L350.38 417.67 L353.77 418.44 L357.17 419.22 L360.56 420.00 L363.95 420.77 L367.35 421.55 L370.74 422.33 L374.13 423.11 L377.52 423.90 L380.92 424.68 L384.31 425.46 L387.70 426.24 L391.09 427.03 L394.49 427.81 L397.88 428.60 L401.27 429.38 L404.66 430.17 L408.05 430.95 L411.45 431.74 L414.84 432.52 L418.23 433.30 L421.62 434.09 L425.02 434.87 L428.41 435.65 L431.80 436.43 L435.19 437.21 L438.59 437.99 L441.98 438.77 L445.37 439.55 L448.77 440.33 L452.16 441.10 L455.56 441.88 L458.95 442.65 L462.35 443.42 L465.74 444.19 L469.14 444.96 L472.54 445.73 L475.93 446.49 L479.33 447.25 L482.73 448.01 L486.13 448.77 L489.53 449.53 L492.92 450.28 L496.32 451.03 L499.73 451.78 L503.13 452.53 L506.53 453.27 L509.93 454.01 L513.33 454.75 L516.74 455.48 L520.14 456.21 L523.55 456.94 L526.95 457.67 L530.36 458.39 L533.77 459.10 L537.18 459.82 L540.59 460.53 L544.00 461.24 L547.41 461.94 L550.82 462.64 L554.23 463.34 L557.65 464.03 L561.06 464.71 L564.48 465.40 L567.89 466.08 L571.31 466.75 L574.73 467.42 L578.15 468.08 L581.57 468.74 L584.99 469.40 L588.41 470.05 L591.84 470.69 L595.26 471.33 L598.69 471.97 L602.12 472.60 L605.55 473.22 L608.98 473.84 L612.41 474.46 L615.84 475.07 L619.27 475.68 L622.70 476.28 L626.14 476.88 L629.57 477.48 L633.01 478.08 L636.44 478.67 L639.88 479.27 L643.31 479.86 L646.75 480.45 L650.18 481.04 L653.62 481.64 L657.06 482.23 L660.49 482.82 L663.93 483.42 L667.36 484.01 L670.79 484.61 L674.23 485.21 L677.66 485.81 L681.09 486.42 L684.52 487.03 L687.95 487.64 L691.38 488.26 L694.81 488.88 L698.23 489.51 L701.66 490.14 L705.08 490.78 L708.50 491.42 L711.92 492.08 L715.34 492.73 L718.76 493.40 L722.17 494.07 L725.59 494.75 L729.00 495.44 L732.41 496.14 L735.81 496.84 L739.22 497.56 L742.62 498.28 L746.02 499.02 L749.42 499.76 L752.81 500.52 L756.20 501.29 L759.59 502.07 L762.97 502.86 L766.36 503.67 L769.74 504.48 L773.11 505.31 L776.48 506.16 L779.85 507.02 L783.21 507.90 L786.56 508.82 L789.90 509.77 L793.22 510.76 L796.52 511.81 L799.79 512.90 L803.05 514.07 L806.27 515.30 L809.46 516.60 L812.62 517.99 L815.74 519.47 L818.83 521.04 L821.87 522.71 L824.86 524.49 L827.81 526.37 L830.71 528.36 L833.56 530.46 L836.35 532.67 L839.09 535.00 L841.78 537.43 L844.41 539.98" fill="none" stroke="#161616" stroke-width="4.8" stroke-linecap="butt" stroke-linejoin="round"/>
<path d="M116.81 323.46 L117.80 324.24 L118.79 325.02 L119.79 325.80 L120.78 326.57 L121.78 327.34 L122.78 328.11 L123.79 328.88 L124.79 329.64 L125.80 330.40 L126.80 331.16 L127.81 331.92 L128.82 332.67 L129.83 333.42 L130.85 334.17 L131.86 334.92 L132.88 335.66 L133.90 336.41 L134.92 337.15 L135.94 337.88 L136.97 338.62 L137.99 339.35 L139.02 340.08 L140.05 340.81 L141.08 341.54 L142.11 342.26 L143.15 342.98 L144.18 343.70 L145.22 344.42 L146.26 345.13 L147.30 345.84 L148.34 346.55 L149.38 347.26 L150.42 347.96 L151.47 348.67 L152.52 349.37 L153.57 350.07 L154.62 350.76 L155.67 351.46 L156.72 352.15 L157.77 352.84 L158.83 353.53 L159.89 354.21 L160.95 354.89 L162.01 355.57 L163.07 356.25 L164.13 356.93 L165.20 357.60 L166.26 358.28 L167.33 358.95 L168.40 359.61 L169.47 360.28 L170.54 360.94 L171.61 361.61 L172.69 362.27 L173.76 362.92 L174.84 363.58 L175.92 364.23 L176.99 364.88 L178.07 365.53 L179.16 366.18 L180.24 366.83 L181.32 367.47 L182.41 368.11 L183.50 368.75 L184.58 369.39 L185.67 370.02 L186.76 370.66 L187.86 371.29 L188.95 371.92 L190.04 372.54 L191.14 373.17 L192.23 373.79 L193.33 374.41 L194.43 375.03 L195.53 375.65 L196.63 376.27 L197.73 376.88 L198.84 377.49 L199.94 378.10 L201.05 378.71 L202.15 379.32 L203.26 379.92 L204.37 380.52 L205.48 381.12 L206.59 381.72 L207.70 382.32 L208.81 382.91 L209.93 383.51 L211.04 384.10 L212.16 384.69 L213.28 385.28 L214.39 385.86 L215.51 386.45 L216.63 387.03 L217.75 387.61 L218.88 388.19 L220.00 388.77 L221.12 389.34 L222.25 389.92 L223.37 390.49 L224.50 391.06 L225.63 391.63 L226.76 392.19 L227.89 392.76 L229.02 393.32 L230.15 393.88 L231.28 394.44 L232.41 395.00 L233.55 395.56 L234.68 396.11 L235.82 396.67 L236.95 397.22 L238.09 397.77 L239.23 398.32 L240.37 398.86 L241.51 399.41 L242.65 399.95 L243.79 400.49 L244.93 401.04 L246.07 401.57 L247.22 402.11 L248.36 402.65 L249.50 403.18 L250.65 403.71 L251.80 404.25 L252.94 404.77 L254.09 405.30 L255.24 405.83 L256.39 406.35 L257.54 406.88 L258.69 407.40 L259.84 407.92 L260.99 408.44 L262.15 408.96 L263.30 409.47 L264.45 409.99 L265.61 410.50 L266.76 411.01 L267.92 411.52 L269.07 412.03 L270.23 412.54 L271.39 413.05 L272.55 413.55 L273.70 414.05 L274.86 414.56 L276.02 415.06 L277.18 415.56 L278.34 416.05 L279.50 416.55 L280.67 417.05 L281.83 417.54 L282.99 418.03 L284.15 418.52 L285.32 419.01 L286.48 419.50 L287.65 419.99 L288.81 420.47 L289.98 420.96 L291.14 421.44 L292.31 421.92 L293.48 422.41 L294.64 422.89 L295.81 423.36 L296.98 423.84 L298.15 424.32 L299.32 424.79 L300.48 425.26 L301.65 425.74 L302.82 426.21 L303.99 426.68 L305.16 427.15 L306.33 427.61 L307.51 428.08 L308.68 428.55 L309.85 429.01 L311.02 429.47 L312.19 429.93 L313.37 430.39 L314.54 430.85 L315.71 431.31 L316.88 431.77 L318.06 432.23 L319.23 432.68 L320.41 433.13 L321.58 433.59 L322.75 434.04 L323.93 434.49 L325.10 434.94 L326.28 435.39 L327.45 435.84 L328.63 436.28 L329.80 436.73 L330.98 437.17 L332.15 437.62 L333.33 438.06 L334.51 438.50 L335.68 438.94 L336.86 439.38 L338.03 439.82" fill="none" stroke="#161616" stroke-width="4.8" stroke-linecap="butt" stroke-linejoin="round"/>
<path d="M373.00 450.00 L373.86 450.18 L374.73 450.36 L375.59 450.55 L376.45 450.74 L377.31 450.93 L378.17 451.13 L379.03 451.33 L379.89 451.53 L380.75 451.74 L381.60 451.95 L382.46 452.16 L383.31 452.38 L384.16 452.60 L385.01 452.82 L385.87 453.05 L386.72 453.28 L387.56 453.51 L388.41 453.74 L389.26 453.98 L390.11 454.22 L390.95 454.46 L391.80 454.71 L392.64 454.95 L393.49 455.20 L394.33 455.45 L395.17 455.71 L396.02 455.96 L396.86 456.22 L397.70 456.48 L398.54 456.74 L399.38 457.00 L400.22 457.27 L401.06 457.53 L401.89 457.80 L402.73 458.07 L403.57 458.34 L404.41 458.61 L405.24 458.89 L406.08 459.16 L406.91 459.44 L407.75 459.72 L408.58 459.99 L409.42 460.27 L410.25 460.55 L411.09 460.84 L411.92 461.12 L412.76 461.40 L413.59 461.68 L414.42 461.97 L415.26 462.25 L416.09 462.53 L416.92 462.82 L417.76 463.10 L418.59 463.39 L419.42 463.67 L420.25 463.96 L421.09 464.24 L421.92 464.53 L422.75 464.82 L423.59 465.10 L424.42 465.38 L425.25 465.67 L426.09 465.95 L426.92 466.24 L427.75 466.52 L428.59 466.80 L429.42 467.08 L430.25 467.36 L431.09 467.64 L431.92 467.92 L432.76 468.20 L433.59 468.47 L434.43 468.75 L435.27 469.02 L436.10 469.30 L436.94 469.57 L437.78 469.84 L438.61 470.11 L439.45 470.38 L440.29 470.64 L441.13 470.91 L441.97 471.17 L442.81 471.43 L443.65 471.69 L444.49 471.94 L445.33 472.20 L446.18 472.45 L447.02 472.70 L447.86 472.95 L448.71 473.19 L449.55 473.44 L450.40 473.68 L451.25 473.92 L452.10 474.15 L452.94 474.38 L453.79 474.61 L454.64 474.84 L455.49 475.07 L456.35 475.29 L457.20 475.51 L458.05 475.72 L458.91 475.93 L459.76 476.14 L460.62 476.35 L461.48 476.55 L462.34 476.75 L463.20 476.94 L464.06 477.14 L464.92 477.33 L465.78 477.52 L466.64 477.70 L467.51 477.88 L468.37 478.07 L469.24 478.25 L470.10 478.43 L470.97 478.61 L471.83 478.78 L472.70 478.96 L473.57 479.14 L474.43 479.32 L475.30 479.50 L476.17 479.68 L477.03 479.86 L477.90 480.04 L478.77 480.22 L479.63 480.41 L480.50 480.60 L481.37 480.79 L482.23 480.98 L483.10 481.17 L483.96 481.38 L484.82 481.58 L485.68 481.79 L486.54 482.01 L487.39 482.24 L488.24 482.48 L489.09 482.73 L489.93 482.99 L490.76 483.26 L491.59 483.54 L492.42 483.84 L493.23 484.15 L494.05 484.48 L494.85 484.82 L495.65 485.17 L496.44 485.54 L497.22 485.92 L497.99 486.32 L498.76 486.73 L499.51 487.15 L500.26 487.59 L501.00 488.04 L501.73 488.50 L502.45 488.98 L503.17 489.47 L503.87 489.98 L504.56 490.50 L505.24 491.03 L505.91 491.58 L506.57 492.14 L507.22 492.71 L507.85 493.30 L508.48 493.90 L509.09 494.51 L509.69 495.13 L510.28 495.77 L510.85 496.43 L511.42 497.09 L511.97 497.77 L512.50 498.47 L513.02 499.17 L513.53 499.89 L514.02 500.62 L514.50 501.37 L514.97 502.13 L515.42 502.90 L515.85 503.68 L516.27 504.47 L516.68 505.27 L517.07 506.08 L517.45 506.90 L517.82 507.73 L518.17 508.56 L518.50 509.40 L518.83 510.25 L519.14 511.10 L519.43 511.96 L519.71 512.81 L519.98 513.68 L520.24 514.54 L520.48 515.40 L520.71 516.27 L520.93 517.13 L521.13 517.99 L521.33 518.85 L521.50 519.71 L521.67 520.57 L521.82 521.42 L521.97 522.26" fill="none" stroke="#161616" stroke-width="4.8" stroke-linecap="butt" stroke-linejoin="round"/>
<text font-size="29.799" font-weight="bold" fill="#161616" transform="matrix(0.65959 0 0 1 141.58 299.70)">132</text>
<text font-size="29.370" font-weight="bold" fill="#161616" transform="matrix(0.63013 0 0 1 354.35 376.70)">102</text>
<text font-size="28.223" font-weight="bold" fill="#161616" transform="matrix(0.68007 0 0 1 214.90 369.70)">82</text>
<text font-size="29.370" font-weight="bold" fill="#161616" transform="matrix(0.65541 0 0 1 140.55 386.20)">92</text>
<text font-size="28.367" font-weight="bold" fill="#161616" transform="matrix(0.65270 0 0 1 345.83 457.50)">62</text>
</svg></body></html>
